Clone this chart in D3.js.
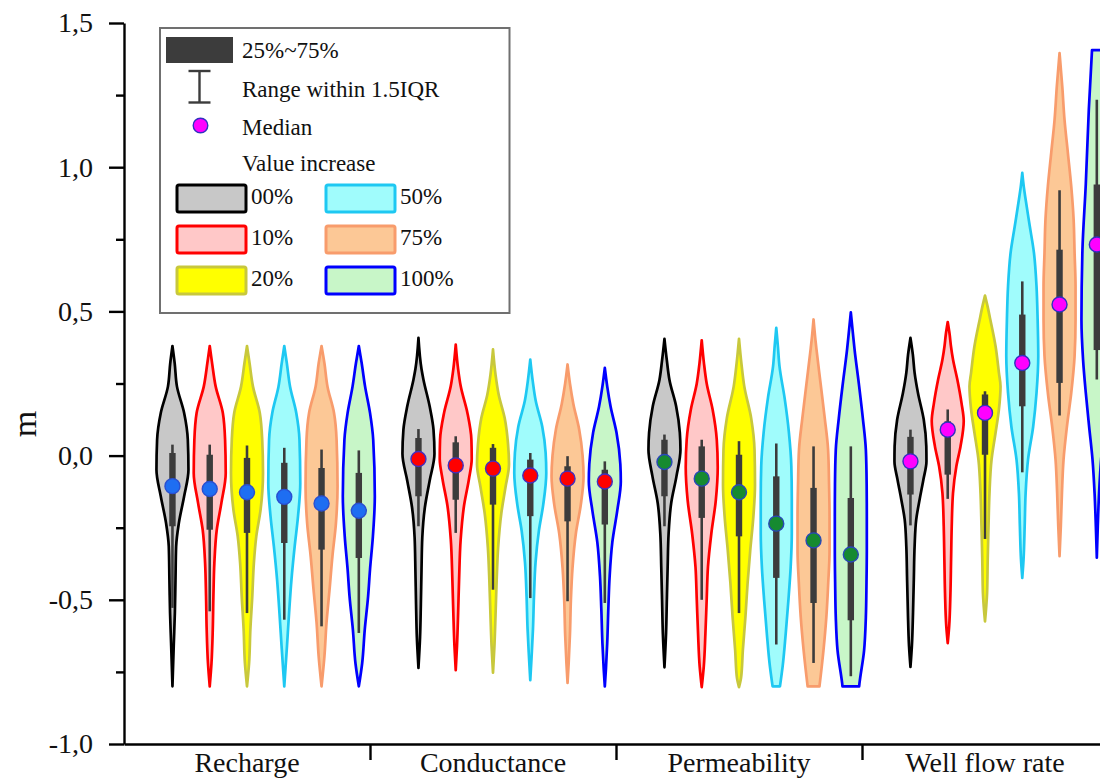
<!DOCTYPE html>
<html>
<head>
<meta charset="utf-8">
<script src="https://cdn.jsdelivr.net/npm/d3@7/dist/d3.min.js"></script>
<style>
  html, body { margin: 0; padding: 0; background: #fff; overflow: hidden; }
  svg { display: block; font-family: "Liberation Serif", "Times New Roman", serif; }
</style>
</head>
<body>
<svg id="chart" width="1100" height="780"></svg>
<script>
// ---------------- DATA ----------------
const groups = ["Recharge", "Conductance", "Permeability", "Well flow rate"];
const levels = ["00%", "10%", "20%", "50%", "75%", "100%"];
const yTicks = [-1.0, -0.5, 0.0, 0.5, 1.0, 1.5];
const yMinorTicks = [-0.75, -0.25, 0.25, 0.75, 1.25];

// per group, per level (00%,10%,20%,50%,75%,100%)
const maxValues = [
  [0.38, 0.38, 0.38, 0.38, 0.38, 0.38],
  [0.408, 0.385, 0.368, 0.333, 0.316, 0.304],
  [0.405, 0.40, 0.405, 0.443, 0.472, 0.497],
  [0.408, 0.463, 0.555, 0.98, 1.396, 1.406]
];
const minValues = [
  [-0.80, -0.80, -0.80, -0.80, -0.80, -0.80],
  [-0.736, -0.744, -0.753, -0.779, -0.788, -0.80],
  [-0.734, -0.803, -0.803, -0.80, -0.80, -0.80],
  [-0.733, -0.65, -0.575, -0.424, -0.349, -0.354]
];
const whiskerHigh = [
  [0.038, 0.038, 0.035, 0.027, 0.021, 0.018],
  [0.092, 0.067, 0.04, 0.009, -0.002, -0.02],
  [0.073, 0.055, 0.05, 0.042, 0.032, 0.032],
  [0.09, 0.16, 0.223, 0.604, 0.92, 1.234]
];
const q3Values = [
  [0.009, 0.003, -0.008, -0.025, -0.043, -0.06],
  [0.061, 0.046, 0.027, -0.014, -0.037, -0.049],
  [0.055, 0.032, 0.003, -0.072, -0.112, -0.147],
  [0.065, 0.119, 0.212, 0.489, 0.714, 0.94]
];
const medianValues = [
  [-0.106, -0.116, -0.127, -0.143, -0.166, -0.191],
  [-0.012, -0.034, -0.045, -0.069, -0.08, -0.09],
  [-0.022, -0.08, -0.127, -0.236, -0.294, -0.343],
  [-0.02, 0.09, 0.148, 0.321, 0.524, 0.732]
];
const q1Values = [
  [-0.245, -0.257, -0.268, -0.303, -0.326, -0.355],
  [-0.141, -0.153, -0.17, -0.21, -0.228, -0.239],
  [-0.141, -0.216, -0.28, -0.424, -0.511, -0.571],
  [-0.135, -0.066, 0.003, 0.171, 0.252, 0.366]
];
const whiskerLow = [
  [-0.528, -0.54, -0.546, -0.569, -0.592, -0.615],
  [-0.245, -0.268, -0.465, -0.494, -0.505, -0.511],
  [-0.245, -0.5, -0.546, -0.655, -0.719, -0.765],
  [-0.242, -0.15, -0.289, -0.058, 0.139, 0.264]
];

// violin outlines: [value, relative density] (top to bottom)
const rechargeShapes = [
  [[0.38,0],[0.32,0.14],[0.24,0.28],[0.148,0.73],[0.055,0.96],[-0.049,1.0],[-0.141,0.73],[-0.234,0.4],[-0.315,0.23],[-0.431,0.19],[-0.546,0.15],[-0.66,0.08],[-0.80,0]],
  [[0.38,0],[0.32,0.15],[0.24,0.37],[0.148,0.82],[0.055,0.96],[-0.06,1.0],[-0.164,0.73],[-0.257,0.44],[-0.372,0.29],[-0.488,0.23],[-0.604,0.19],[-0.72,0.11],[-0.80,0]],
  [[0.38,0],[0.32,0.16],[0.24,0.37],[0.148,0.8],[0.055,0.95],[-0.06,1.0],[-0.187,0.85],[-0.28,0.58],[-0.372,0.43],[-0.488,0.33],[-0.604,0.21],[-0.72,0.13],[-0.80,0]],
  [[0.38,0],[0.32,0.16],[0.24,0.36],[0.148,0.75],[0.055,0.95],[-0.095,1.0],[-0.21,0.86],[-0.315,0.65],[-0.43,0.45],[-0.546,0.3],[-0.66,0.17],[-0.80,0]],
  [[0.38,0],[0.32,0.18],[0.24,0.37],[0.148,0.78],[0.055,0.94],[-0.106,1.0],[-0.234,0.9],[-0.349,0.68],[-0.465,0.5],[-0.58,0.31],[-0.696,0.18],[-0.80,0]],
  [[0.38,0],[0.32,0.18],[0.24,0.39],[0.148,0.7],[0.055,0.9],[-0.141,1.0],[-0.28,0.88],[-0.395,0.7],[-0.488,0.58],[-0.604,0.37],[-0.72,0.21],[-0.80,0]]
];
const conductanceShapes = [
  [[0.408,0],[0.3,0.19],[0.264,0.31],[0.171,0.7],[0.09,0.94],[0.006,1.0],[-0.087,0.7],[-0.18,0.4],[-0.284,0.24],[-0.4,0.19],[-0.516,0.15],[-0.63,0.1],[-0.736,0]],
  [[0.385,0],[0.3,0.15],[0.241,0.31],[0.148,0.73],[0.055,0.98],[-0.011,1.0],[-0.08,0.83],[-0.173,0.52],[-0.29,0.31],[-0.43,0.21],[-0.546,0.15],[-0.66,0.08],[-0.744,0]],
  [[0.368,0],[0.28,0.16],[0.21,0.36],[0.13,0.73],[0.04,0.94],[-0.03,1.0],[-0.11,0.78],[-0.2,0.52],[-0.32,0.32],[-0.43,0.23],[-0.55,0.16],[-0.66,0.09],[-0.753,0]],
  [[0.333,0],[0.26,0.15],[0.19,0.34],[0.1,0.75],[0.01,0.96],[-0.06,1.0],[-0.17,0.81],[-0.26,0.54],[-0.37,0.33],[-0.49,0.23],[-0.6,0.17],[-0.7,0.08],[-0.779,0]],
  [[0.316,0],[0.25,0.15],[0.18,0.36],[0.09,0.73],[0.0,0.94],[-0.072,1.0],[-0.17,0.83],[-0.27,0.52],[-0.39,0.31],[-0.5,0.21],[-0.62,0.15],[-0.72,0.07],[-0.788,0]],
  [[0.304,0],[0.24,0.15],[0.17,0.36],[0.08,0.73],[-0.03,0.97],[-0.09,1.0],[-0.19,0.78],[-0.3,0.47],[-0.42,0.3],[-0.53,0.22],[-0.65,0.15],[-0.74,0.07],[-0.80,0]]
];
const permeabilityShapes = [
  [[0.405,0],[0.33,0.15],[0.263,0.31],[0.171,0.73],[0.08,0.96],[0.02,1.0],[-0.072,0.75],[-0.165,0.42],[-0.27,0.26],[-0.386,0.2],[-0.5,0.15],[-0.617,0.1],[-0.734,0]],
  [[0.40,0],[0.32,0.14],[0.25,0.31],[0.16,0.68],[0.055,0.94],[-0.04,1.0],[-0.155,0.88],[-0.27,0.6],[-0.386,0.39],[-0.5,0.31],[-0.617,0.23],[-0.73,0.13],[-0.803,0]],
  [[0.405,0],[0.32,0.15],[0.24,0.33],[0.13,0.76],[0.02,0.97],[-0.1,1.0],[-0.21,0.9],[-0.33,0.7],[-0.44,0.54],[-0.56,0.4],[-0.675,0.24],[-0.77,0.13],[-0.803,0]],
  [[0.443,0],[0.38,0.1],[0.31,0.2],[0.2,0.52],[0.08,0.79],[-0.035,0.94],[-0.15,0.97],[-0.27,0.97],[-0.386,0.9],[-0.5,0.76],[-0.617,0.59],[-0.73,0.4],[-0.80,0.23]],
  [[0.472,0],[0.4,0.12],[0.37,0.18],[0.25,0.44],[0.13,0.7],[0.02,0.91],[-0.1,0.97],[-0.21,1.0],[-0.33,1.0],[-0.44,0.92],[-0.56,0.8],[-0.675,0.62],[-0.80,0.37]],
  [[0.497,0],[0.43,0.12],[0.37,0.23],[0.25,0.5],[0.13,0.75],[0.02,0.94],[-0.1,0.99],[-0.21,1.0],[-0.33,1.0],[-0.44,0.98],[-0.56,0.94],[-0.675,0.83],[-0.79,0.54],[-0.80,0.52]]
];
const wellFlowShapes = [
  [[0.408,0],[0.35,0.15],[0.287,0.26],[0.217,0.47],[0.125,0.83],[0.032,0.99],[-0.02,1.0],[-0.083,0.81],[-0.153,0.57],[-0.222,0.36],[-0.314,0.26],[-0.43,0.21],[-0.545,0.16],[-0.66,0.09],[-0.733,0]],
  [[0.463,0],[0.42,0.12],[0.38,0.2],[0.333,0.33],[0.264,0.6],[0.183,0.86],[0.12,1.0],[0.032,0.8],[-0.037,0.54],[-0.13,0.33],[-0.245,0.25],[-0.36,0.21],[-0.476,0.17],[-0.592,0.09],[-0.65,0]],
  [[0.555,0],[0.52,0.15],[0.472,0.33],[0.379,0.66],[0.287,0.87],[0.24,0.97],[0.16,0.87],[0.079,0.66],[-0.014,0.41],[-0.13,0.28],[-0.245,0.22],[-0.36,0.17],[-0.476,0.13],[-0.575,0]],
  [[0.98,0],[0.93,0.1],[0.888,0.21],[0.795,0.47],[0.703,0.73],[0.587,0.89],[0.472,0.96],[0.345,1.0],[0.217,0.89],[0.1,0.68],[-0.014,0.36],[-0.13,0.21],[-0.245,0.15],[-0.36,0.08],[-0.424,0]],
  [[1.396,0],[1.28,0.17],[1.165,0.31],[1.05,0.52],[0.934,0.73],[0.818,0.88],[0.703,0.94],[0.587,1.0],[0.472,1.0],[0.345,0.94],[0.217,0.73],[0.1,0.46],[-0.014,0.25],[-0.13,0.15],[-0.245,0.08],[-0.349,0]],
  [[1.406,0.3],[1.2,0.5],[0.94,0.69],[0.71,0.9],[0.47,0.96],[0.333,0.86],[0.218,0.69],[0.1,0.48],[-0.013,0.27],[-0.13,0.14],[-0.246,0.06],[-0.354,0]]
];
const shapesByGroup = [rechargeShapes, conductanceShapes, permeabilityShapes, wellFlowShapes];

// ---------------- STYLE ----------------
const fillColors = ["#c8c8c8", "#ffc8c8", "#ffff00", "#a0fcfc", "#fcc896", "#c8f6c8"];
const strokeColors = ["#000000", "#ff0000", "#c8c83c", "#1ec8f2", "#f89c6c", "#0000ff"];
const medianFill = ["#1e6ef2", "#ff0000", "#168a30", "#ff00ff"];
const medianStroke = ["#2a4fd0", "#4030c0", "#2848b8", "#3030c0"];
const boxColor = "#3c3c3c";

// ---------------- SCALES ----------------
const svg = d3.select("#chart");
const groupStep = 6.6;     // spacing between groups in violin units
const y = d3.scaleLinear().domain([-1.0, 1.5]).range([744, 23]);
const x = d3.scaleLinear().domain([-1.3, 4 * groupStep - 1.3]).range([124, 124 + 4 * 246]);
const halfW = d3.scaleLinear().domain([0, 1]).range([0, 16]);

// ---------------- VIOLINS ----------------
const plot = svg.append("g");
groups.forEach((gName, g) => {
  levels.forEach((lv, i) => {
    const cx = x(g * groupStep + i);
    const shape = shapesByGroup[g][i];
    const area = d3.area()
      .y(d => y(d[0]))
      .x0(d => cx - halfW(d[1]))
      .x1(d => cx + halfW(d[1]))
      .curve(d3.curveMonotoneY);
    plot.append("path")
      .attr("d", area(shape))
      .attr("fill", fillColors[i])
      .attr("stroke", strokeColors[i])
      .attr("stroke-width", 2.7)
      .attr("stroke-linejoin", "round");
    // whisker
    plot.append("line")
      .attr("x1", cx).attr("x2", cx)
      .attr("y1", y(whiskerHigh[g][i])).attr("y2", y(whiskerLow[g][i]))
      .attr("stroke", boxColor).attr("stroke-width", 2.6);
    // box
    plot.append("rect")
      .attr("x", cx - 3.2).attr("width", 6.4)
      .attr("y", y(q3Values[g][i]))
      .attr("height", y(q1Values[g][i]) - y(q3Values[g][i]))
      .attr("fill", boxColor);
    // median
    plot.append("circle")
      .attr("cx", cx).attr("cy", y(medianValues[g][i]))
      .attr("r", 7.5)
      .attr("fill", medianFill[g])
      .attr("stroke", medianStroke[g])
      .attr("stroke-width", 1.4);
  });
});

// ---------------- AXES ----------------
const fmt = d => (d < 0 ? "-" : "") + Math.abs(d).toFixed(1).replace(".", ",");
const yAxis = svg.append("g").attr("transform", "translate(124,0)")
  .call(d3.axisLeft(y).tickValues(yTicks).tickFormat(fmt).tickSize(15).tickSizeOuter(0).tickPadding(16));
yAxis.select(".domain").attr("stroke", "#000").attr("stroke-width", 2.4);
yAxis.selectAll(".tick line").attr("stroke", "#000").attr("stroke-width", 2.4);
yAxis.selectAll(".tick text").attr("font-family", "Liberation Serif, serif").attr("font-size", 28).attr("fill", "#111");

const yMinor = svg.append("g").attr("transform", "translate(124,0)")
  .call(d3.axisLeft(y).tickValues(yMinorTicks).tickFormat("").tickSize(8).tickSizeOuter(0));
yMinor.select(".domain").remove();
yMinor.selectAll(".tick line").attr("stroke", "#000").attr("stroke-width", 2.4);

const sepTicks = d3.range(1, 4).map(g => g * groupStep - 1.3);
const xAxis = svg.append("g").attr("transform", "translate(0,744)")
  .call(d3.axisBottom(x).tickValues(sepTicks).tickFormat("").tickSize(16).tickSizeOuter(0));
xAxis.select(".domain").attr("stroke", "#000").attr("stroke-width", 2.4);
xAxis.selectAll(".tick line").attr("stroke", "#000").attr("stroke-width", 2.4);

svg.append("g").selectAll("text").data(groups).join("text")
  .attr("x", (d, g) => x(g * groupStep + 2.0))
  .attr("y", 772)
  .attr("text-anchor", "middle")
  .attr("font-size", 28)
  .attr("fill", "#111")
  .text(d => d);

svg.append("text")
  .attr("transform", "translate(24,424) rotate(-90)")
  .attr("text-anchor", "middle")
  .attr("dominant-baseline", "central")
  .attr("font-size", 34)
  .attr("fill", "#111")
  .text("m");

// ---------------- LEGEND ----------------
const leg = svg.append("g");
leg.append("rect").attr("x", 160).attr("y", 28).attr("width", 349.5).attr("height", 285)
  .attr("fill", "#fff").attr("stroke", "#707070").attr("stroke-width", 2);
leg.append("rect").attr("x", 166).attr("y", 37).attr("width", 67).attr("height", 26).attr("fill", boxColor);
leg.append("line").attr("x1", 199.5).attr("x2", 199.5).attr("y1", 71).attr("y2", 102.5).attr("stroke", boxColor).attr("stroke-width", 2.4);
leg.append("line").attr("x1", 188.5).attr("x2", 210.5).attr("y1", 71).attr("y2", 71).attr("stroke", boxColor).attr("stroke-width", 2.4);
leg.append("line").attr("x1", 188.5).attr("x2", 210.5).attr("y1", 102.5).attr("y2", 102.5).attr("stroke", boxColor).attr("stroke-width", 2.4);
leg.append("circle").attr("cx", 200.5).attr("cy", 125.5).attr("r", 7.3).attr("fill", "#ff00ff").attr("stroke", "#3030c0").attr("stroke-width", 1.4);
const legTexts = [["25%~75%", 58], ["Range within 1.5IQR", 96.5], ["Median", 135], ["Value increase", 170.5]];
leg.selectAll("text.hdr").data(legTexts).join("text").attr("class", "hdr")
  .attr("x", 242).attr("y", d => d[1]).attr("font-size", 23).attr("fill", "#111").text(d => d[0]);
const sw = leg.selectAll("g.sw").data(levels).join("g").attr("class", "sw")
  .attr("transform", (d, i) => `translate(${i < 3 ? 177 : 326},${[185, 226, 267][i % 3]})`);
sw.append("rect").attr("width", 69).attr("height", 27).attr("rx", 2)
  .attr("fill", (d, i) => fillColors[i]).attr("stroke", (d, i) => strokeColors[i]).attr("stroke-width", 3);
sw.append("text").attr("x", 74).attr("y", 19).attr("font-size", 23).attr("fill", "#111").text(d => d);
</script>
</body>
</html>
